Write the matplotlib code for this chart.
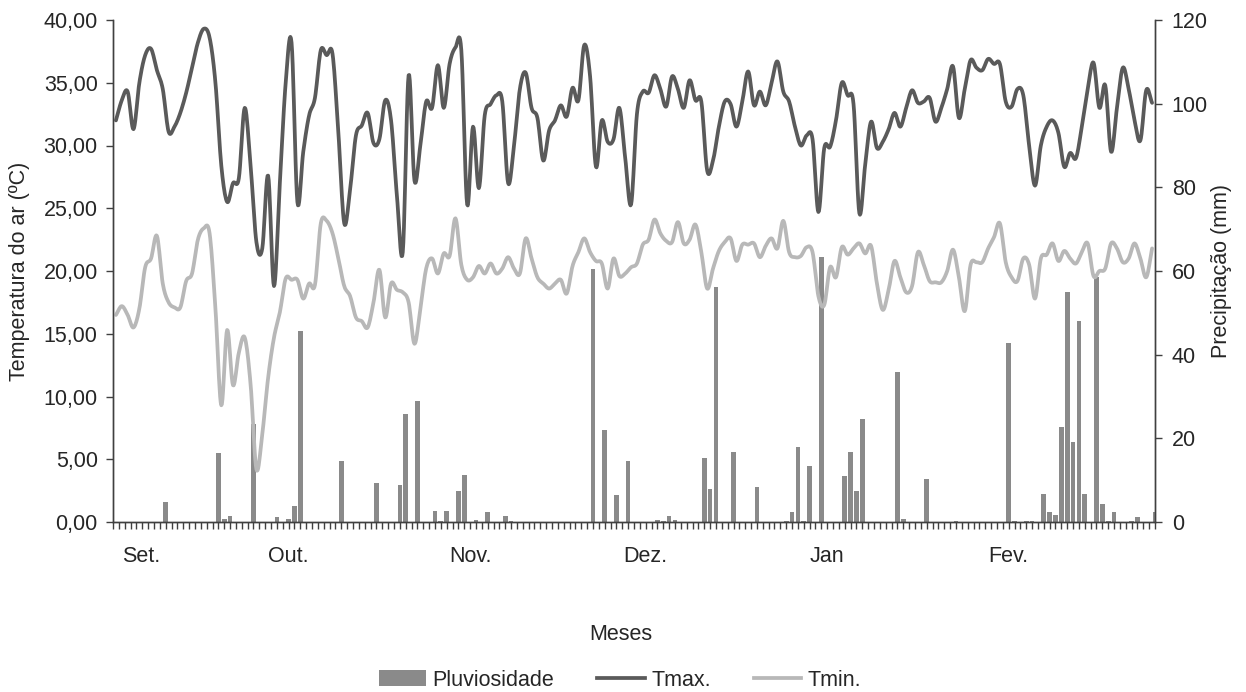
import numpy as np
import matplotlib
matplotlib.use('Agg')
import matplotlib.pyplot as plt
import matplotlib.transforms as mtransforms
from matplotlib.ticker import FuncFormatter, FixedLocator, MultipleLocator
from matplotlib.lines import Line2D
from matplotlib.patches import Patch

plt.rcParams['font.family'] = ['Liberation Sans', 'DejaVu Sans']

# daily air temperature, 1 Sep -> 25 Feb
tmax = [32.0, 33.6, 34.3, 31.3, 35.0, 37.2, 37.7, 36.0, 34.5, 31.1,
        31.5, 32.6, 34.2, 36.2, 38.2, 39.3, 38.6, 35.0, 28.4, 25.5,
        27.0, 27.4, 33.0, 28.4, 22.3, 21.8, 27.6, 18.8, 27.0, 35.0,
        38.2, 25.5, 29.5, 32.4, 33.8, 37.6, 37.2, 37.3, 31.0, 23.8,
        26.5, 30.8, 31.6, 32.6, 30.2, 30.5, 33.6, 32.0, 26.0, 21.5,
        35.6, 27.2, 30.0, 33.5, 33.0, 36.4, 33.0, 36.5, 37.8, 37.6,
        25.3, 31.5, 26.6, 32.4, 33.3, 34.0, 33.5, 27.0, 30.0, 34.5,
        35.8, 33.0, 32.2, 28.8, 31.2, 32.0, 33.2, 32.3, 34.6, 33.6,
        38.0, 35.5, 28.3, 32.0, 30.3, 30.5, 33.0, 29.0, 25.3, 32.5,
        34.3, 34.2, 35.6, 34.5, 33.1, 35.5, 34.5, 33.0, 35.2, 33.6,
        33.5, 28.0, 28.8, 31.5, 33.5, 33.3, 31.5, 33.5, 35.9, 33.2,
        34.3, 33.2, 35.0, 36.7, 34.3, 33.5, 31.5, 30.0, 30.8, 30.5,
        24.7, 29.8, 29.9, 32.0, 35.0, 34.0, 33.3, 24.6, 28.5, 31.9,
        29.8, 30.3, 31.3, 32.6, 31.5, 33.0, 34.4, 33.4, 33.5, 33.8,
        31.9, 33.0, 34.5, 36.3, 32.2, 34.5, 36.8, 36.2, 36.0, 36.9,
        36.5, 36.5, 33.5, 33.1, 34.5, 34.0, 30.0, 26.8, 30.0, 31.5,
        32.0, 31.0, 28.3, 29.4, 29.0, 31.5, 34.5, 36.6, 33.0, 34.8,
        29.5, 33.0, 36.2, 34.5, 32.0, 30.4, 34.4, 33.4]

tmin = [16.5, 17.2, 16.5, 15.5, 17.0, 20.3, 21.0, 22.8, 19.0, 17.5,
        17.1, 17.1, 19.2, 19.8, 22.5, 23.4, 23.0, 17.0, 9.3, 15.3,
        10.9, 13.5, 14.7, 11.0, 4.2, 7.0, 11.5, 14.7, 16.7, 19.4,
        19.3, 19.3, 17.8, 19.0, 18.9, 23.8, 24.0, 23.0, 21.0, 18.8,
        18.0, 16.3, 16.0, 15.5, 17.5, 20.1, 16.3, 19.0, 18.5, 18.3,
        17.5, 14.2, 17.0, 20.2, 21.0, 19.8, 21.4, 21.2, 24.2, 20.5,
        19.3, 19.5, 20.4, 19.8, 20.6, 19.8, 20.2, 21.1, 20.2, 19.8,
        22.6, 21.0, 19.5, 19.0, 18.6, 19.0, 19.3, 18.2, 20.4, 21.5,
        22.6, 21.5, 20.8, 20.6, 18.6, 21.0, 19.6, 19.8, 20.3, 20.6,
        22.1, 22.5, 24.1, 23.0, 22.4, 22.3, 23.9, 22.2, 22.5, 23.7,
        21.5, 18.6, 20.2, 21.6, 22.3, 22.6, 20.8, 22.1, 22.1, 22.2,
        21.1, 22.0, 22.6, 21.8, 24.0, 21.5, 21.1, 21.2, 21.9, 21.5,
        18.0, 17.3, 20.3, 19.5, 21.9, 21.3, 21.8, 22.2, 21.4, 22.0,
        19.0, 16.9, 18.5, 20.8, 19.5, 18.3, 18.8, 21.5, 20.5, 19.2,
        19.1, 19.1, 20.0, 21.7, 19.5, 16.8, 20.5, 20.7, 20.7, 21.8,
        22.7, 23.8, 20.7, 19.5, 19.2, 21.0, 20.5, 17.8, 21.0, 21.3,
        22.2, 20.8, 21.6, 21.0, 20.6, 21.5, 22.2, 19.6, 20.0, 20.2,
        22.2, 21.8, 20.7, 21.0, 22.2, 21.0, 19.5, 21.8]

# rainy days (day index from 1 Sep) and rain in mm
rain_day = [9, 18, 19, 20, 24, 28, 30, 31, 32, 39, 45, 49, 50, 52, 55, 56, 57,
            59, 60, 62, 64, 67, 68, 82, 84, 86, 88, 93, 94, 95, 96, 101, 102,
            103, 106, 110, 115, 116, 117, 118, 119, 121, 125, 126, 127, 128,
            134, 135, 139, 144, 153, 154, 156, 157, 159, 160, 161, 162, 163,
            164, 165, 166, 168, 169, 170, 171, 174, 175, 178]
rain_mm = [4.8, 16.4, 0.8, 1.5, 23.4, 1.2, 0.8, 3.9, 45.7, 14.5, 9.3, 8.8, 25.9,
           28.9, 2.6, 0.3, 2.6, 7.5, 11.2, 0.4, 2.4, 1.4, 0.3, 60.5, 22.0, 6.4,
           14.6, 0.4, 0.2, 1.4, 0.4, 15.2, 7.8, 56.1, 16.7, 8.4, 0.3, 2.4, 17.9,
           0.3, 13.4, 63.3, 11.0, 16.7, 7.5, 24.6, 35.9, 0.6, 10.2, 0.3, 42.7,
           0.3, 0.3, 0.3, 6.6, 2.4, 1.6, 22.8, 55.0, 19.1, 48.0, 6.6, 58.6, 4.2,
           0.3, 2.4, 0.3, 1.2, 2.4]

n_days = 179
month_start = [0, 30, 61, 91, 122, 153]
month_lab = ['Set.', 'Out.', 'Nov.', 'Dez.', 'Jan', 'Fev.']

c_max = '#5a5a5a'
c_min = '#b8b8b8'
c_bar = '#8a8a8a'
c_txt = '#262626'
c_ax = '#404040'
fs = 15.5


def smooth(x, y, steps=10):
    # catmull-rom curve through the points, like excel's smoothed line
    x = np.asarray(x, float)
    y = np.asarray(y, float)
    px = np.concatenate([[2 * x[0] - x[1]], x, [2 * x[-1] - x[-2]]])
    py = np.concatenate([[2 * y[0] - y[1]], y, [2 * y[-1] - y[-2]]])
    t = np.linspace(0, 1, steps, endpoint=False)[None, :]
    out = []
    for p in (px, py):
        p0, p1, p2, p3 = p[:-3, None], p[1:-2, None], p[2:-1, None], p[3:, None]
        c = 0.5 * (2 * p1 + (-p0 + p2) * t + (2 * p0 - 5 * p1 + 4 * p2 - p3) * t ** 2
                   + (-p0 + 3 * p1 - 3 * p2 + p3) * t ** 3)
        out.append(np.append(c.ravel(), p[-2]))
    return out


fig = plt.figure(figsize=(12.46, 6.92), dpi=100)
ax = fig.add_axes([113 / 1246, 1 - 522 / 692, (1155 - 113) / 1246, (522 - 20) / 692])
ax2 = ax.twinx()

# precipitation bars (right axis)
rain = np.zeros(n_days)
rain[rain_day] = rain_mm
ax2.bar(np.arange(n_days), rain, width=0.8, color=c_bar, linewidth=0)
ax2.set_ylim(0, 120)
ax2.yaxis.set_major_locator(MultipleLocator(20))

# temperature lines (left axis), drawn above the bars
xl = np.arange(len(tmax)) + 0.5
sx, sy = smooth(xl, tmax)
ax.plot(sx, sy, color=c_max, lw=2.7, solid_capstyle='round')
sx, sy = smooth(xl, tmin)
ax.plot(sx, sy, color=c_min, lw=2.7, solid_capstyle='round')
ax.set_zorder(ax2.get_zorder() + 1)
ax.patch.set_visible(False)

ax.set_xlim(0, n_days - 1)
ax.set_ylim(0, 40)
ax.yaxis.set_major_locator(MultipleLocator(5))
ax.yaxis.set_major_formatter(FuncFormatter(lambda v, p: f'{v:.2f}'.replace('.', ',')))

ax.xaxis.set_major_locator(FixedLocator(month_start))
ax.set_xticklabels(month_lab)
ax.xaxis.set_minor_locator(MultipleLocator(1))

for a in (ax, ax2):
    a.spines['top'].set_visible(False)
    for s in ('left', 'right', 'bottom'):
        a.spines[s].set_color(c_ax)
        a.spines[s].set_linewidth(1.0)

ax.tick_params(axis='x', which='both', direction='out', length=5, width=1,
               color=c_ax, labelsize=fs, labelcolor=c_txt, pad=12)
ax.tick_params(axis='y', direction='out', length=5, width=1, color=c_ax,
               labelsize=fs, labelcolor=c_txt, pad=6)
ax2.tick_params(axis='y', direction='out', length=5, width=1, color=c_ax,
                labelsize=fs, labelcolor=c_txt, pad=7)

# first month label sits right of the axis start
lbl0 = ax.get_xticklabels()[0]
lbl0.set_horizontalalignment('left')
lbl0.set_transform(lbl0.get_transform() + mtransforms.ScaledTranslation(9 / 100, 0, fig.dpi_scale_trans))

ax.set_ylabel('Temperatura do ar (ºC)', fontsize=fs, color=c_txt, labelpad=10)
ax2.set_ylabel('Precipitação (mm)', fontsize=fs, color=c_txt, labelpad=2)
fig.text(621 / 1246, 1 - 634 / 692, 'Meses', ha='center', va='center', fontsize=fs, color=c_txt)

handles = [Patch(facecolor=c_bar, edgecolor='none'),
           Line2D([], [], color=c_max, lw=2.7),
           Line2D([], [], color=c_min, lw=2.7)]
fig.legend(handles, ['Pluviosidade', 'Tmax.', 'Tmin.'], loc='center',
           bbox_to_anchor=(620 / 1246, 1 - 680 / 692), ncol=3, frameon=False,
           fontsize=fs, labelcolor=c_txt, handlelength=2.2, handleheight=0.7,
           handletextpad=0.3, columnspacing=2.0)

fig.savefig('out.png', dpi=100)
